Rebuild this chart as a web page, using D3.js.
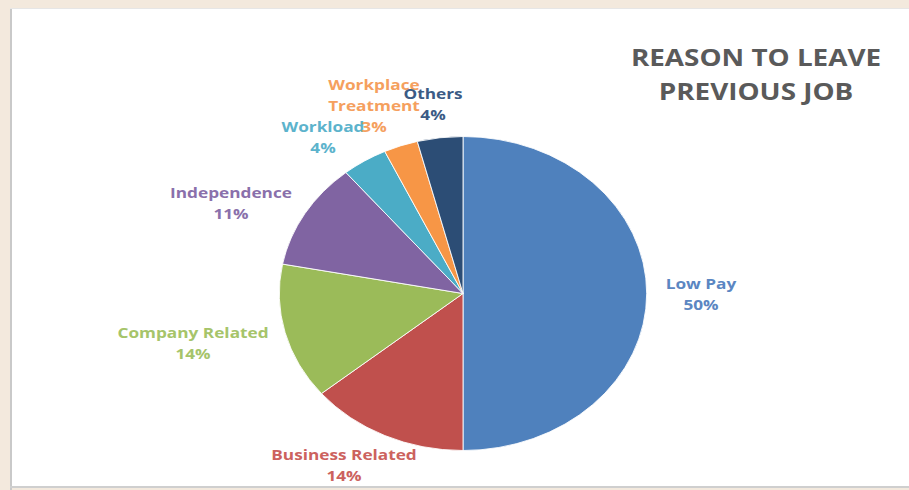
<!DOCTYPE html>
<html>
<head>
<meta charset="utf-8">
<script src="https://cdn.jsdelivr.net/npm/d3@7"></script>
<style>
  html, body { margin: 0; padding: 0; background: #f3e9dd; }
  svg { display: block; }
</style>
</head>
<body>
<svg id="chart" width="909" height="490"></svg>
<script>
// Reasons given for leaving the previous job (percent of respondents)
const categories = ["Low Pay", "Business Related", "Company Related", "Independence", "Workload", "Workplace Treatment", "Others"];
const shares = [50, 14, 14, 11, 4, 3, 4];
const sliceColors = ["#4f81bd", "#c0504d", "#9bbb59", "#8064a2", "#4bacc6", "#f79646", "#2c4d75"];
const labelColors = ["#5b86c2", "#cc625e", "#a6c46a", "#8a70ab", "#5cb3cc", "#f5a05e", "#3b5b85"];
const titleLines = ["REASON TO LEAVE", "PREVIOUS JOB"];

const W = 909, H = 490;
const svg = d3.select("#chart");

// card on the beige page
svg.append("rect").attr("x", 0).attr("y", 0).attr("width", W).attr("height", H).attr("fill", "#f3e9dd");
svg.append("rect").attr("x", 10).attr("y", 8).attr("width", W - 10).attr("height", 479).attr("fill", "#ffffff");
svg.append("rect").attr("x", 10).attr("y", 8).attr("width", 2).attr("height", 482).attr("fill", "#c9c9c9");
svg.append("rect").attr("x", 10).attr("y", 486).attr("width", W - 10).attr("height", 2).attr("fill", "#cfcfcf");
svg.append("rect").attr("x", 10).attr("y", 8).attr("width", W - 10).attr("height", 1).attr("fill", "#e6e6e6");

// pie: the chart is drawn slightly wider than tall
const cx = 463, cy = 293.5, r = 157, sx = 1.17;
const pie = d3.pie().sort(null).value(d => d)(shares);
const arc = d3.arc().innerRadius(0).outerRadius(r);

const g = svg.append("g").attr("transform", `translate(${cx},${cy}) scale(${sx},1)`);
g.selectAll("path")
  .data(pie)
  .join("path")
  .attr("d", arc)
  .attr("fill", (d, i) => sliceColors[i])
  .attr("stroke", "#ffffff")
  .attr("stroke-width", 0.8);

// label anchors (first-line baseline), offset from the pie centre
const labelOffsets = [
  [238, -4.5], [-119, 166.5], [-270, 44.5], [-232, -95.5], [-140, -161.5], [-89, -203.5], [-30, -194.5]
];
const labelLines = [
  ["Low Pay"], ["Business Related"], ["Company Related"], ["Independence"], ["Workload"], ["Workplace", "Treatment"], ["Others"]
];

const labels = svg.append("g")
  .style("font-family", "'Open Sans', 'Liberation Sans', sans-serif")
  .style("font-weight", "bold")
  .style("font-size", "14px");

pie.forEach((d, i) => {
  const [dx, dy] = labelOffsets[i];
  const lines = labelLines[i].concat([d3.format(".0f")(d.data) + "%"]);
  const t = labels.append("text")
    .attr("transform", `translate(${cx + dx},${cy + dy}) scale(1.23,1)`)
    .attr("text-anchor", "middle")
    .attr("fill", labelColors[i]);
  lines.forEach((s, k) => {
    t.append("tspan").attr("x", 0).attr("dy", k === 0 ? 0 : 21).text(s);
  });
});

// title
const title = svg.append("text")
  .attr("transform", "translate(756,66) scale(1.16,1)")
  .attr("text-anchor", "middle")
  .attr("fill", "#5a5a5a")
  .style("font-family", "'Open Sans', 'Liberation Sans', sans-serif")
  .style("font-weight", "bold")
  .style("font-size", "24px");
titleLines.forEach((s, k) => {
  title.append("tspan").attr("x", 0).attr("dy", k === 0 ? 0 : 34).text(s);
});
</script>
</body>
</html>
